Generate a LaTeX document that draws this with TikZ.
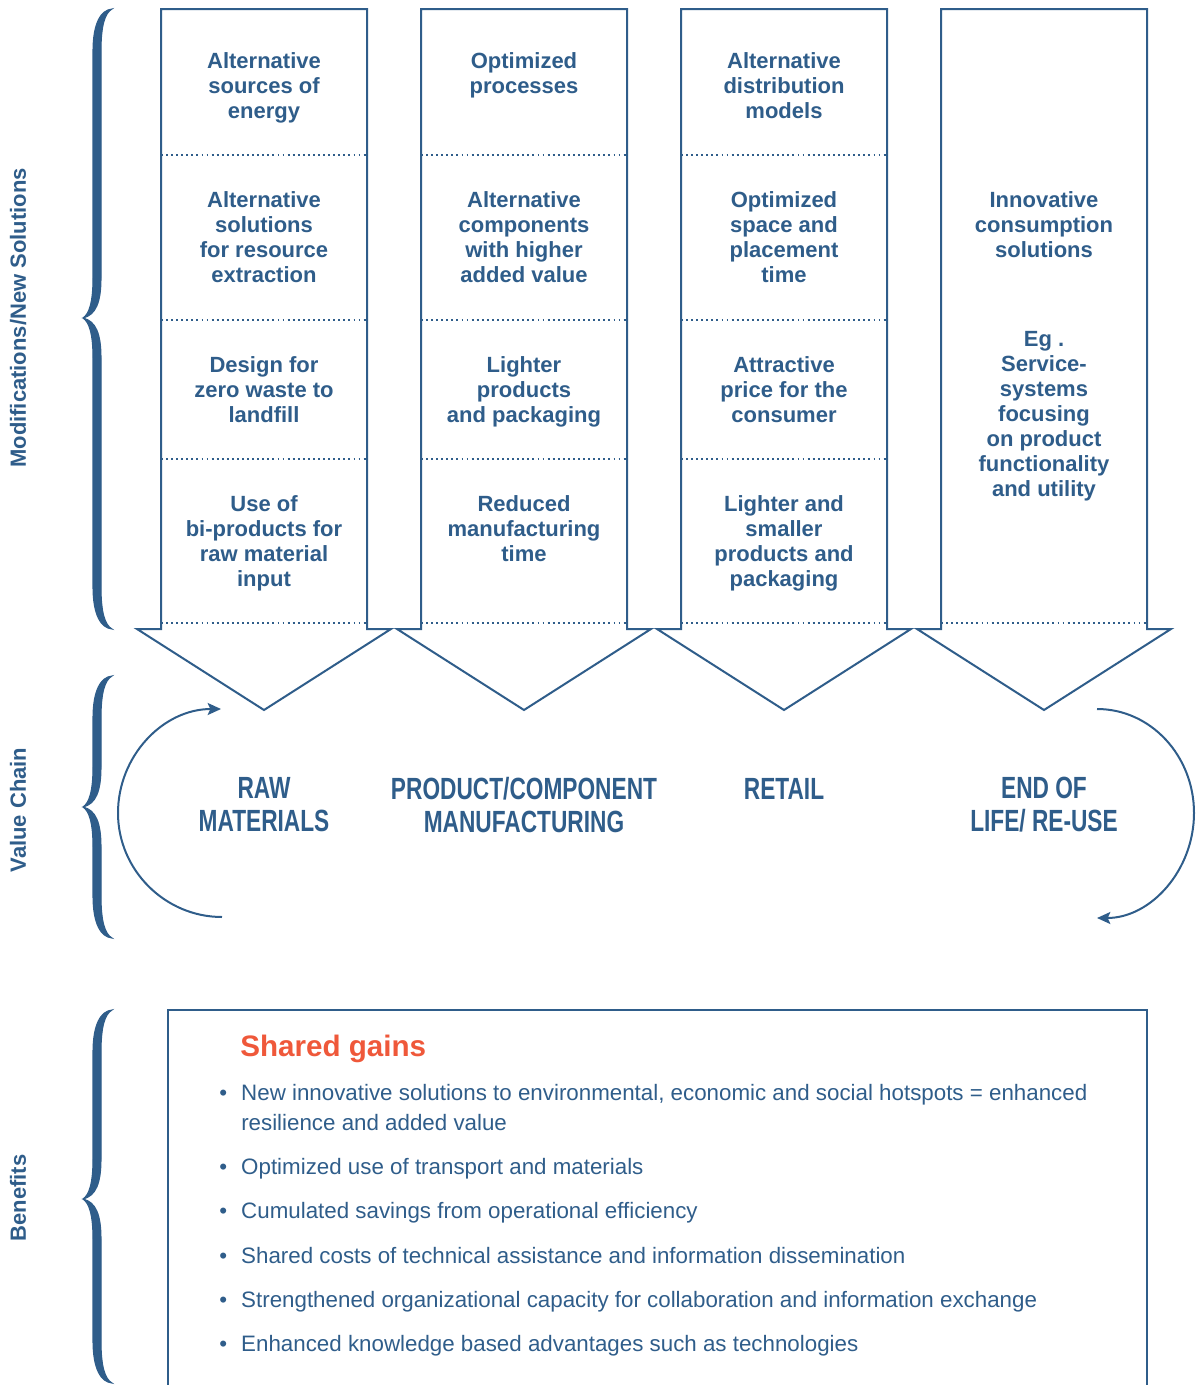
\documentclass[tikz,border=0pt]{standalone}
\usepackage{fontspec}
\setmainfont{Liberation Sans}
\newfontfamily\condfont[FakeStretch=0.74]{Liberation Sans}
\usepackage{xcolor}
\usepackage{tikz}
\usetikzlibrary{positioning, arrows.meta}
\definecolor{vcBlue}{RGB}{47, 93, 138}
\definecolor{vcRed}{RGB}{239, 88, 58}
\tikzset{
    base/.style={
        font=\fontsize{16.5}{18.75}\selectfont\bfseries,
        text=vcBlue,
        align=center
    },
    cell/.style={
        base,
        anchor=north,
        inner sep=0pt
    },
    shaft/.style={
        draw=vcBlue,
        line width=1.5pt,
        fill=white
    },
    divider/.style={
        draw=vcBlue,
        line width=1.4pt,
        dash pattern=on 1.4pt off 2.4pt
    },
    stage/.style={
        font=\condfont\fontsize{23}{24.75}\selectfont\bfseries,
        text=vcBlue,
        align=center,
        inner sep=0pt
    },
    sidetitle/.style={
        base,
        rotate=90
    },
    cycleflow/.style={
        draw=vcBlue,
        line width=1.5pt,
        -{Stealth[length=10pt, width=9pt, inset=2pt]}
    },
    bracefill/.style={
        fill=vcBlue,
        draw=vcBlue,
        line width=0.8pt
    },
    gainhead/.style={
        font=\fontsize{22.2}{26}\selectfont\bfseries,
        text=vcRed,
        anchor=base west,
        inner sep=0pt
    },
    gain/.style={
        font=\fontsize{16.75}{22.5}\selectfont,
        text=vcBlue,
        align=left,
        anchor=north west,
        inner sep=0pt
    }
}
% curly brace: top, middle, bottom (y grows downwards)
\newcommand{\vcbrace}[3]{%
  \filldraw[bracefill] (112,#1) .. controls (101,#1+1) and (93,#1+14) .. (93,#1+42)
    -- (93,#2-40) .. controls (93,#2-15) and (89,#2-4) .. (83,#2)
    .. controls (89,#2+4) and (93,#2+15) .. (93,#2+40)
    -- (93,#3-42) .. controls (93,#3-14) and (101,#3-1) .. (112,#3)
    .. controls (105,#3-4) and (101,#3-16) .. (101,#3-42)
    -- (101,#2+40) .. controls (101,#2+16) and (96,#2+3) .. (83,#2)
    .. controls (96,#2-3) and (101,#2-16) .. (101,#2-40)
    -- (101,#1+42) .. controls (101,#1+16) and (105,#1+4) .. (112,#1) -- cycle;}
\newcommand{\gbullet}{\makebox[16.5pt][l]{\textbullet}}

\begin{document}
\begin{tikzpicture}[x=0.75pt, y=-0.75pt]
  \useasboundingbox (0,0) rectangle (1196,1385);

  % side braces and titles
  \vcbrace{9}{318}{629}
  \vcbrace{676}{807}{938}
  \vcbrace{1010}{1199}{1383}
  \node[sidetitle] (modTitle) at (18,318) {Modifications/New Solutions};
  \node[sidetitle] (chainTitle) at (18,810) {Value Chain};
  \node[sidetitle] (benefitTitle) at (18,1198) {Benefits};

  % the four arrow columns
  \foreach \cx in {264,524,784,1044} {
    \draw[shaft] ({\cx-103},9) -- ({\cx-103},629) -- ({\cx-127},629) -- (\cx,710)
      -- ({\cx+127},629) -- ({\cx+103},629) -- ({\cx+103},9) -- cycle;
    \draw[divider] ({\cx-103},623) -- ({\cx+103},623);
  }
  \foreach \cx in {264,524,784} {
    \foreach \ly in {155,320,459}
      \draw[divider] ({\cx-103},\ly) -- ({\cx+103},\ly);
  }

  \node[cell] (raw1) at (264,52) {Alternative\\sources of\\energy};
  \node[cell] (raw2) at (264,191) {Alternative\\solutions\\for resource\\extraction};
  \node[cell] (raw3) at (264,356) {Design for\\zero waste to\\landfill};
  \node[cell] (raw4) at (264,495) {Use of\\bi-products for\\raw material\\input};

  \node[cell] (mfg1) at (524,52) {Optimized\\processes};
  \node[cell] (mfg2) at (524,191) {Alternative\\components\\with higher\\added value};
  \node[cell] (mfg3) at (524,356) {Lighter\\products\\and packaging};
  \node[cell] (mfg4) at (524,495) {Reduced\\manufacturing\\time};

  \node[cell] (ret1) at (784,52) {Alternative\\distribution\\models};
  \node[cell] (ret2) at (784,191) {Optimized\\space and\\placement\\time};
  \node[cell] (ret3) at (784,356) {Attractive\\price for the\\consumer};
  \node[cell] (ret4) at (784,495) {Lighter and\\smaller\\products and\\packaging};

  \node[cell] (eol1) at (1044,191) {Innovative\\consumption\\solutions};
  \node[cell] (eol2) at (1044,331) {Eg .\\Service-\\systems\\focusing\\on product\\functionality\\and utility};

  % value chain
  \node[stage] (raw) at (264,805) {RAW\\MATERIALS};
  \node[stage] (mfg) at (524,805) {PRODUCT/COMPONENT\\MANUFACTURING};
  \node[stage] (retail) at (784,789) {RETAIL};
  \node[stage] (eol) at (1044,805) {END OF\\LIFE/ RE-USE};

  \coordinate (lbot) at (222,917);
  \coordinate (lleft) at (118,813);
  \coordinate (ltop) at (221,709);
  \draw[cycleflow] (lbot) .. controls (165,917) and (118,870) .. (lleft)
    .. controls (118,756) and (163,709) .. (ltop);
  \coordinate (rtop) at (1097,709);
  \coordinate (rright) at (1194,813);
  \coordinate (rbot) at (1097,918);
  \draw[cycleflow] (rtop) .. controls (1151,709) and (1194,756) .. (rright)
    .. controls (1194,870) and (1151,918) .. (rbot);

  % benefits
  \draw[shaft, fill=none] (168,1392) -- (168,1010) -- (1147,1010) -- (1147,1392);
  \node[gainhead] (gainsHead) at (240,1056) {Shared gains};
  \node[gain] (gain1) at (219,1084) {\gbullet New innovative solutions to environmental, economic and social hotspots = enhanced\\\hspace*{16.5pt}resilience and added value};
  \node[gain] (gain2) at (219,1158) {\gbullet Optimized use of transport and materials};
  \node[gain] (gain3) at (219,1202) {\gbullet Cumulated savings from operational efficiency};
  \node[gain] (gain4) at (219,1247) {\gbullet Shared costs of technical assistance and information dissemination};
  \node[gain] (gain5) at (219,1291) {\gbullet Strengthened organizational capacity for collaboration and information exchange};
  \node[gain] (gain6) at (219,1335) {\gbullet Enhanced knowledge based advantages such as technologies};
\end{tikzpicture}
\end{document}
